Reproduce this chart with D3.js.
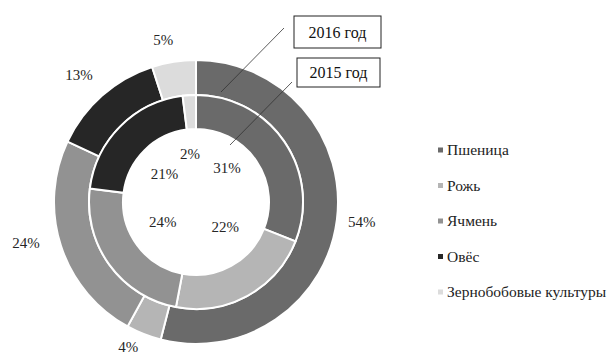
<!DOCTYPE html>
<html>
<head>
<meta charset="utf-8">
<script src="https://cdn.jsdelivr.net/npm/d3@7"></script>
<style>
  html, body { margin: 0; padding: 0; background: #fff; }
</style>
</head>
<body>
<svg id="chart" width="611" height="354"></svg>
<script>
// Crop structure, share of sown area by crop
const crops = ["Пшеница", "Рожь", "Ячмень", "Овёс", "Зернобобовые культуры"];
const share2016 = [54, 4, 24, 13, 5];   // outer ring
const share2015 = [31, 22, 24, 21, 2];  // inner ring
const ringNames = ["2016 год", "2015 год"];
const cropColors = ["#6a6a6a", "#b5b5b5", "#929292", "#262626", "#dcdcdc"];

const FONT = "Liberation Serif";
const svg = d3.select("#chart");
const cx = 196, cy = 202;
const g = svg.append("g").attr("transform", `translate(${cx},${cy})`);

const color = d3.scaleOrdinal().domain(crops).range(cropColors);
const pie = d3.pie().sort(null).value(d => d.v);

const rings = [
  { name: ringNames[0], values: share2016, r0: 107, r1: 142 },
  { name: ringNames[1], values: share2015, r0: 73, r1: 107 }
];

rings.forEach(ring => {
  const data = pie(crops.map((c, i) => ({ c, v: ring.values[i] })));
  const arc = d3.arc().innerRadius(ring.r0).outerRadius(ring.r1);
  g.append("g").selectAll("path").data(data).join("path")
    .attr("d", arc)
    .attr("fill", d => color(d.data.c))
    .attr("stroke", "#fff")
    .attr("stroke-width", 2);
  ring.arcs = data;
});

// Hand-tuned label nudges (px) so labels sit clear of each other
const outerNudge = { "Пшеница": [2, -1], "Рожь": [-7, -9], "Ячмень": [-13, -10], "Овёс": [-8, -3], "Зернобобовые культуры": [-7, 1] };
const innerNudge = { "Пшеница": [-7, -8], "Рожь": [7, -16], "Ячмень": [4, -7], "Овёс": [1, 4], "Зернобобовые культуры": [-3, -2] };

function drawLabels(arcs, radius, nudge) {
  const la = d3.arc().innerRadius(radius).outerRadius(radius);
  g.append("g").selectAll("text").data(arcs).join("text")
    .attr("transform", d => {
      const [x, y] = la.centroid(d);
      const [nx, ny] = nudge[d.data.c];
      return `translate(${x + nx},${y + ny})`;
    })
    .attr("text-anchor", "middle")
    .attr("dy", "0.35em")
    .attr("fill", "#262626")
    .attr("font-family", FONT)
    .attr("font-size", 15)
    .text(d => d.data.v + "%");
}
drawLabels(rings[0].arcs, 165, outerNudge);
drawLabels(rings[1].arcs, 46, innerNudge);

// Callout boxes naming each ring
const callouts = [
  { text: ringNames[0], box: [294, 16, 87, 32], from: [284, 28], to: [221, 92] },
  { text: ringNames[1], box: [297, 58, 83, 29], from: [292, 82], to: [230, 145] }
];
callouts.forEach(c => {
  svg.append("line")
    .attr("x1", c.from[0]).attr("y1", c.from[1])
    .attr("x2", c.to[0]).attr("y2", c.to[1])
    .attr("stroke", "#333").attr("stroke-width", 0.8);
  svg.append("rect")
    .attr("x", c.box[0]).attr("y", c.box[1])
    .attr("width", c.box[2]).attr("height", c.box[3])
    .attr("fill", "#fff").attr("stroke", "#222").attr("stroke-width", 1);
  svg.append("text")
    .attr("x", c.box[0] + c.box[2] / 2).attr("y", c.box[1] + c.box[3] / 2)
    .attr("text-anchor", "middle").attr("dy", "0.35em")
    .attr("fill", "#111")
    .attr("font-family", FONT)
    .attr("font-size", 16)
    .text(c.text);
});

// Legend
const legend = svg.append("g").attr("transform", "translate(438,150)");
const rowY = d3.scalePoint().domain(crops).range([0, 142]);
const items = legend.selectAll("g").data(crops).join("g")
  .attr("transform", d => `translate(0,${rowY(d)})`);
items.append("rect")
  .attr("x", 0).attr("y", -2.5).attr("width", 5).attr("height", 5)
  .attr("fill", d => color(d));
items.append("text")
  .attr("x", 9).attr("dy", "0.35em")
  .attr("fill", "#222")
  .attr("font-family", FONT)
  .attr("font-size", 15.5)
  .text(d => d);
</script>
</body>
</html>
